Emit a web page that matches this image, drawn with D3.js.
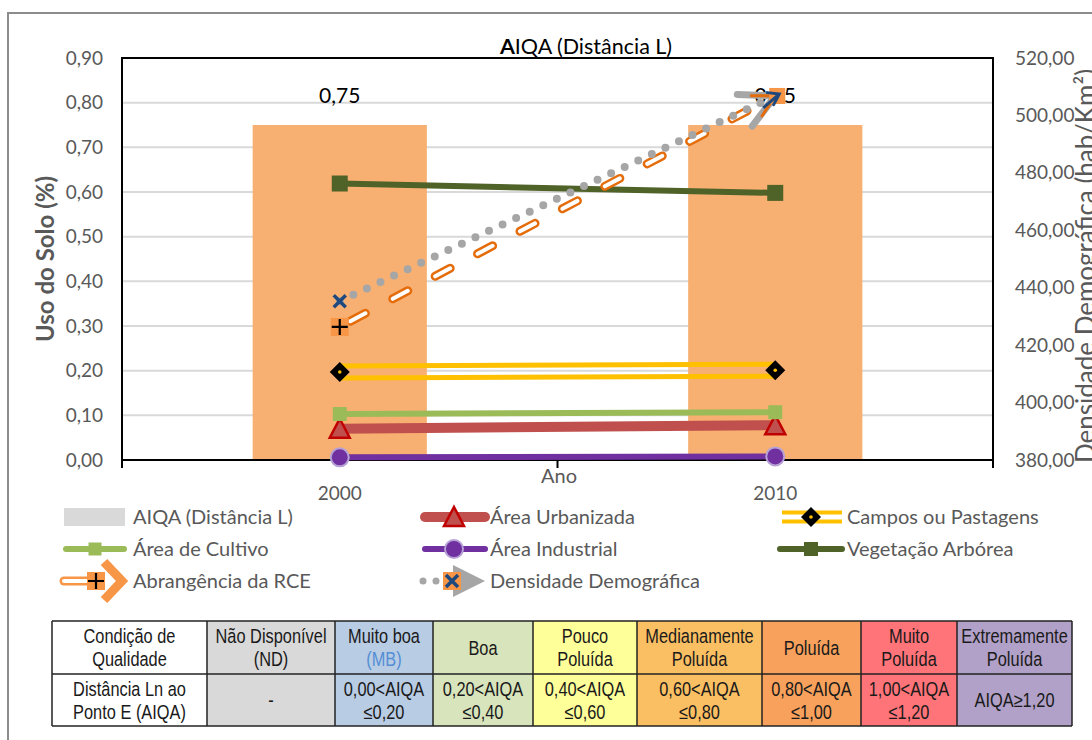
<!DOCTYPE html>
<html><head><meta charset="utf-8">
<script src="https://cdn.jsdelivr.net/npm/d3@7"></script>
<style>body{margin:0;background:#fff} svg{display:block}</style>
</head><body><svg id="c" width="1092" height="740"></svg>
<script>
// ---------- data ----------
const years = ["2000", "2010"];
const aiqa = [0.75, 0.75];
const urbanizada = [0.070, 0.078];
const campos = [0.197, 0.201];
const cultivo = [0.103, 0.107];
const industrial = [0.006, 0.008];
const vegetacao = [0.619, 0.598];
const abrangencia = [0.298, 0.815];
const densidade = [435.3, 506.8];
const leftTicks = [0, 0.1, 0.2, 0.3, 0.4, 0.5, 0.6, 0.7, 0.8, 0.9];
const rightTicks = [380, 400, 420, 440, 460, 480, 500, 520];
const legendLabels = ["AIQA (Distância L)", "Área Urbanizada", "Campos ou Pastagens",
  "Área de Cultivo", "Área Industrial", "Vegetação Arbórea",
  "Abrangência da RCE", "Densidade Demográfica"];
const tableHead = ["Condição de|Qualidade", "Não Disponível|(ND)", "Muito boa|(MB)", "Boa",
  "Pouco|Poluída", "Medianamente|Poluída", "Poluída", "Muito|Poluída", "Extremamente|Poluída"];
const tableBody = ["Distância Ln ao|Ponto E (AIQA)", "-", "0,00<AIQA|≤0,20", "0,20<AIQA|≤0,40",
  "0,40<AIQA|≤0,60", "0,60<AIQA|≤0,80", "0,80<AIQA|≤1,00", "1,00<AIQA|≤1,20", "AIQA≥1,20"];
const tableColors = ["#FFFFFF", "#D9D9D9", "#B8CCE4", "#D8E4BC", "#FFFF99", "#FBBF63", "#F7A15C", "#FF7479", "#B1A0C7"];

// ---------- layout ----------
const svg = d3.select("#c");
const F = "Lato, 'Open Sans', sans-serif";
const TXT = "#595959";
const L = 122, R = 993, T = 58, B = 460;
const loc = d3.formatLocale({decimal: ",", thousands: ".", grouping: [3], currency: ["", ""]});
const f2 = loc.format(".2f");

const x = d3.scaleBand().domain(years).range([L, R]);
const xb = d3.scaleBand().domain(years).range([L, R]).paddingInner(0.6).paddingOuter(0.3);
const yL = d3.scaleLinear().domain([0, 0.9]).range([B, T]);
const yR = d3.scaleLinear().domain([380, 520]).range([B, T]);
const cx = d => x(d) + x.bandwidth() / 2;

// outer chart border
svg.append("path").attr("d", `M8,740 V13 H1092`).attr("fill", "none").attr("stroke", "#8c8c8c").attr("stroke-width", 2);

const defs = svg.append("defs");

// gridlines
svg.append("g").selectAll("line").data(leftTicks).join("line")
  .attr("x1", L).attr("x2", R).attr("y1", d => yL(d)).attr("y2", d => yL(d))
  .attr("stroke", "#D9D9D9").attr("stroke-width", 2);

// bars
svg.append("g").selectAll("rect").data(years).join("rect")
  .attr("x", d => xb(d)).attr("width", xb.bandwidth())
  .attr("y", (d, i) => yL(aiqa[i])).attr("height", (d, i) => B - yL(aiqa[i]))
  .attr("fill", "#F8B072");

// plot border
svg.append("rect").attr("x", L).attr("y", T).attr("width", R - L).attr("height", B - T)
  .attr("fill", "none").attr("stroke", "#000").attr("stroke-width", 2);
// x ticks at band edges
svg.append("g").selectAll("line").data([L, L + x.step(), R]).join("line")
  .attr("x1", d => d).attr("x2", d => d).attr("y1", B).attr("y2", B + 8).attr("stroke", "#000").attr("stroke-width", 2);

// axes
const axL = svg.append("g").attr("transform", `translate(${L},0)`)
  .call(d3.axisLeft(yL).tickValues(leftTicks).tickFormat(f2).tickSize(0).tickPadding(19));
const axR = svg.append("g").attr("transform", `translate(${R},0)`)
  .call(d3.axisRight(yR).tickValues(rightTicks).tickFormat(f2).tickSize(0).tickPadding(22));
const axB = svg.append("g").attr("transform", `translate(0,${B})`)
  .call(d3.axisBottom(x).tickSize(0).tickPadding(27));
[axL, axR, axB].forEach(a => {
  a.select(".domain").remove();
  a.selectAll("text").attr("font-family", F).attr("font-size", 19).attr("fill", TXT);
});

// titles
const title = svg.append("text").attr("x", 586).attr("y", 54).attr("text-anchor", "middle")
  .attr("font-family", F).attr("font-size", 21.5).attr("fill", "#000");
title.append("tspan").attr("font-weight", "bold").text("A");
title.append("tspan").text("IQA (Distância L)");
svg.append("text").attr("x", 559).attr("y", 483).attr("text-anchor", "middle")
  .attr("font-family", F).attr("font-size", 20).attr("fill", TXT).text("Ano");
svg.append("text").attr("transform", `translate(54,259) rotate(-90)`).attr("text-anchor", "middle")
  .attr("font-family", F).attr("font-size", 24).attr("font-weight", "bold").attr("fill", TXT).text("Uso do Solo (%)");
svg.append("text").attr("transform", `translate(1095,266) rotate(-90)`).attr("text-anchor", "middle")
  .attr("font-family", F).attr("font-size", 26).attr("fill", TXT).text("Densidade Demográfica (hab/Km²)");

// data labels
svg.append("g").selectAll("text").data(years).join("text")
  .attr("x", d => cx(d)).attr("y", (d, i) => yL(aiqa[i]) - 22).attr("text-anchor", "middle")
  .attr("font-family", F).attr("font-size", 21).attr("fill", "#000").text((d, i) => f2(aiqa[i]));

// ---------- marker helpers ----------
function sq(g, px, py, s, fill) {
  g.append("rect").attr("x", px - s / 2).attr("y", py - s / 2).attr("width", s).attr("height", s).attr("fill", fill);
}
function tri(g, px, py) {
  g.append("path").attr("d", `M${px},${py - 10} L${px + 10},${py + 9} L${px - 10},${py + 9} Z`)
    .attr("fill", "#C0504D").attr("stroke", "#C00000").attr("stroke-width", 2.5);
}
function diam(g, px, py) {
  g.append("path").attr("d", `M${px},${py - 10} L${px + 10},${py} L${px},${py + 10} L${px - 10},${py} Z`).attr("fill", "#000");
  g.append("circle").attr("cx", px).attr("cy", py).attr("r", 1.8).attr("fill", "#FFC000");
}
function circ(g, px, py) {
  g.append("circle").attr("cx", px).attr("cy", py).attr("r", 9).attr("fill", "#7030A0").attr("stroke", "#B7A2D6").attr("stroke-width", 2);
}
function plus(g, px, py) {
  sq(g, px, py, 18, "#F79646");
  g.append("path").attr("d", `M${px - 8},${py} H${px + 8} M${px},${py - 8} V${py + 8}`).attr("stroke", "#000").attr("stroke-width", 2.2);
}
function cross(g, px, py, withSq) {
  if (withSq) sq(g, px, py, 18, "#F79646");
  g.append("path").attr("d", `M${px - 6},${py - 6} L${px + 6},${py + 6} M${px + 6},${py - 6} L${px - 6},${py + 6}`)
    .attr("stroke", "#1F497D").attr("stroke-width", 3.5);
}
let maskId = 0;
function hollow(g, d, color, outer, inner, dash) {
  const id = "m" + (maskId++);
  const m = defs.append("mask").attr("id", id).attr("maskUnits", "userSpaceOnUse")
    .attr("x", 0).attr("y", 0).attr("width", 1092).attr("height", 740);
  m.append("rect").attr("width", 1092).attr("height", 740).attr("fill", "#fff");
  m.append("path").attr("d", d).attr("fill", "none").attr("stroke", "#000").attr("stroke-width", inner)
    .attr("stroke-dasharray", dash || null).attr("stroke-linecap", dash ? "round" : "butt");
  g.append("path").attr("d", d).attr("fill", "none").attr("stroke", color).attr("stroke-width", outer)
    .attr("stroke-dasharray", dash || null).attr("stroke-linecap", dash ? "round" : "butt").attr("mask", `url(#${id})`);
}
function chevron(g, tip, from, len, half, color, w) {
  const a = Math.atan2(from[1] - tip[1], from[0] - tip[0]);
  const p1 = [tip[0] + len * Math.cos(a + half), tip[1] + len * Math.sin(a + half)];
  const p2 = [tip[0] + len * Math.cos(a - half), tip[1] + len * Math.sin(a - half)];
  g.append("path").attr("d", `M${p1} L${tip} L${p2}`).attr("fill", "none").attr("stroke", color)
    .attr("stroke-width", w).attr("stroke-linejoin", "miter").attr("stroke-linecap", "round");
}

const lineL = d3.line().x((d, i) => cx(years[i])).y(d => yL(d));
const lineR = d3.line().x((d, i) => cx(years[i])).y(d => yR(d));
const G = svg.append("g");

// Área Urbanizada
G.append("path").attr("d", lineL(urbanizada)).attr("fill", "none").attr("stroke", "#C0504D").attr("stroke-width", 10);
// Campos ou Pastagens (hollow yellow)
hollow(G, lineL(campos), "#FFC000", 17, 7);
// Área de Cultivo
G.append("path").attr("d", lineL(cultivo)).attr("fill", "none").attr("stroke", "#9BBB59").attr("stroke-width", 6);
// Área Industrial
G.append("path").attr("d", lineL(industrial)).attr("fill", "none").attr("stroke", "#7030A0").attr("stroke-width", 6);
// Vegetação Arbórea
G.append("path").attr("d", lineL(vegetacao)).attr("fill", "none").attr("stroke", "#4F6228").attr("stroke-width", 6);
// Abrangência da RCE: hollow dashed orange
{
  const d = lineL(abrangencia);
  G.append("path").attr("d", d).attr("fill", "none").attr("stroke", "#E46C0A").attr("stroke-width", 9)
    .attr("stroke-dasharray", "17 31").attr("stroke-dashoffset", -12).attr("stroke-linecap", "round");
  G.append("path").attr("d", d).attr("fill", "none").attr("stroke", "#fff").attr("stroke-width", 4)
    .attr("stroke-dasharray", "17 31").attr("stroke-dashoffset", -12).attr("stroke-linecap", "round");
}
// Densidade Demográfica: gray dots
G.append("path").attr("d", lineR(densidade)).attr("fill", "none").attr("stroke", "#A6A6A6").attr("stroke-width", 8)
  .attr("stroke-dasharray", "0 15").attr("stroke-dashoffset", -15).attr("stroke-linecap", "round");

// markers
years.forEach((yr, i) => {
  const px = cx(yr);
  tri(G, px, yL(urbanizada[i]));
  diam(G, px, yL(campos[i]));
  sq(G, px, yL(cultivo[i]), 14, "#9BBB59");
  circ(G, px, yL(industrial[i]));
  sq(G, px, yL(vegetacao[i]), 16, "#4F6228");
});
// start markers
plus(G, cx(years[0]), yL(abrangencia[0]));
cross(G, cx(years[0]), yR(densidade[0]), false);
// end arrows
{
  const tipR = [cx(years[1]), yR(densidade[1])];
  const fromR = [cx(years[0]), yR(densidade[0])];
  chevron(G, tipR, fromR, 38, 0.48, "#A6A6A6", 7);
  const tipO = [cx(years[1]), yL(abrangencia[1])];
  const fromO = [cx(years[0]), yL(abrangencia[0])];
  chevron(G, tipO, fromO, 24, 0.5, "#E46C0A", 3);
  sq(G, tipO[0] + 2, tipO[1], 16, "#F79646");
  chevron(G, [tipO[0] + 4, tipO[1] - 2], fromO, 12, 0.6, "#1F497D", 3);
  G.append("line").attr("x1", tipO[0] - 12).attr("y1", tipO[1] + 12).attr("x2", tipO[0] + 3).attr("y2", tipO[1] - 1)
    .attr("stroke", "#1F497D").attr("stroke-width", 3);
}

// ---------- legend ----------
const leg = svg.append("g");
const colX = [64, 421, 778];
const rowY = [517, 549, 581];
const symW = 64;
legendLabels.forEach((lab, i) => {
  const c = i % 3, r = Math.floor(i / 3);
  const x0 = colX[c], yy = rowY[r], xm = x0 + symW / 2 + 1;
  const g = leg.append("g");
  if (i === 0) {
    g.append("rect").attr("x", x0).attr("y", yy - 9).attr("width", 61).attr("height", 18).attr("fill", "#D9D9D9");
  } else if (i === 1) {
    g.append("line").attr("x1", x0 + 4).attr("x2", x0 + 64).attr("y1", yy).attr("y2", yy).attr("stroke", "#C0504D").attr("stroke-width", 10).attr("stroke-linecap", "round");
    tri(g, xm, yy);
  } else if (i === 2) {
    hollow(g, `M${x0 + 4},${yy}H${x0 + 64}`, "#FFC000", 13, 5);
    diam(g, xm, yy);
  } else if (i === 3) {
    g.append("line").attr("x1", x0 + 2).attr("x2", x0 + 60).attr("y1", yy).attr("y2", yy).attr("stroke", "#9BBB59").attr("stroke-width", 6).attr("stroke-linecap", "round");
    sq(g, x0 + 31, yy, 13, "#9BBB59");
  } else if (i === 4) {
    g.append("line").attr("x1", x0 + 4).attr("x2", x0 + 64).attr("y1", yy).attr("y2", yy).attr("stroke", "#7030A0").attr("stroke-width", 6).attr("stroke-linecap", "round");
    circ(g, xm, yy);
  } else if (i === 5) {
    g.append("line").attr("x1", x0 + 2).attr("x2", x0 + 64).attr("y1", yy).attr("y2", yy).attr("stroke", "#4F6228").attr("stroke-width", 6).attr("stroke-linecap", "round");
    sq(g, xm, yy, 14, "#4F6228");
  } else if (i === 6) {
    g.append("path").attr("d", `M${x0},${yy}H${x0 + 26}`).attr("stroke", "#F79646").attr("stroke-width", 9).attr("stroke-linecap", "round");
    g.append("path").attr("d", `M${x0},${yy}H${x0 + 26}`).attr("stroke", "#fff").attr("stroke-width", 4).attr("stroke-linecap", "round");
    plus(g, x0 + 32, yy);
    g.append("path").attr("d", `M${x0 + 40},${yy - 19} L${x0 + 58},${yy} L${x0 + 40},${yy + 19}`).attr("fill", "none")
      .attr("stroke", "#F79646").attr("stroke-width", 9).attr("stroke-linejoin", "miter");
  } else {
    [x0 + 2, x0 + 15].forEach(dx => g.append("circle").attr("cx", dx).attr("cy", yy).attr("r", 3.5).attr("fill", "#A6A6A6"));
    g.append("path").attr("d", `M${x0 + 32},${yy - 16} L${x0 + 64},${yy} L${x0 + 32},${yy + 16} Z`).attr("fill", "#A6A6A6");
    cross(g, x0 + 31, yy, true);
  }
  g.append("text").attr("x", x0 + 69).attr("y", yy).attr("dy", "0.35em")
    .attr("font-family", F).attr("font-size", 20).attr("fill", TXT).text(lab);
});

// ---------- table ----------
const colEdges = [52, 207, 335, 433, 533, 637, 762, 861, 957, 1072];
const rowEdges = [621, 674, 726];
const TF = "'Liberation Sans', Arial, sans-serif";
const tb = svg.append("g");
[tableHead, tableBody].forEach((row, r) => {
  row.forEach((txt, c) => {
    const x0 = colEdges[c], x1 = colEdges[c + 1], y0 = rowEdges[r], y1 = rowEdges[r + 1];
    tb.append("rect").attr("x", x0).attr("y", y0).attr("width", x1 - x0).attr("height", y1 - y0)
      .attr("fill", tableColors[c]);
    const lines = txt.split("|");
    const mid = (y0 + y1) / 2, lh = 23;
    lines.forEach((ln, k) => {
      tb.append("text")
        .attr("transform", `translate(${(x0 + x1) / 2},${mid + (k - (lines.length - 1) / 2) * lh}) scale(0.84,1)`)
        .attr("dy", "0.36em")
        .attr("text-anchor", "middle").attr("font-family", TF).attr("font-size", 19.5)
        .attr("fill", (r === 0 && c === 2 && k === 1) ? "#558ED5" : "#1a1a1a").text(ln);
    });
  });
});
tb.append("g").selectAll("line").data(colEdges).join("line")
  .attr("x1", d => d).attr("x2", d => d).attr("y1", rowEdges[0]).attr("y2", rowEdges[2]).attr("stroke", "#222").attr("stroke-width", 1.5);
tb.append("g").selectAll("line").data(rowEdges).join("line")
  .attr("x1", colEdges[0]).attr("x2", colEdges[colEdges.length - 1]).attr("y1", d => d).attr("y2", d => d).attr("stroke", "#222").attr("stroke-width", 1.5);
</script></body></html>
